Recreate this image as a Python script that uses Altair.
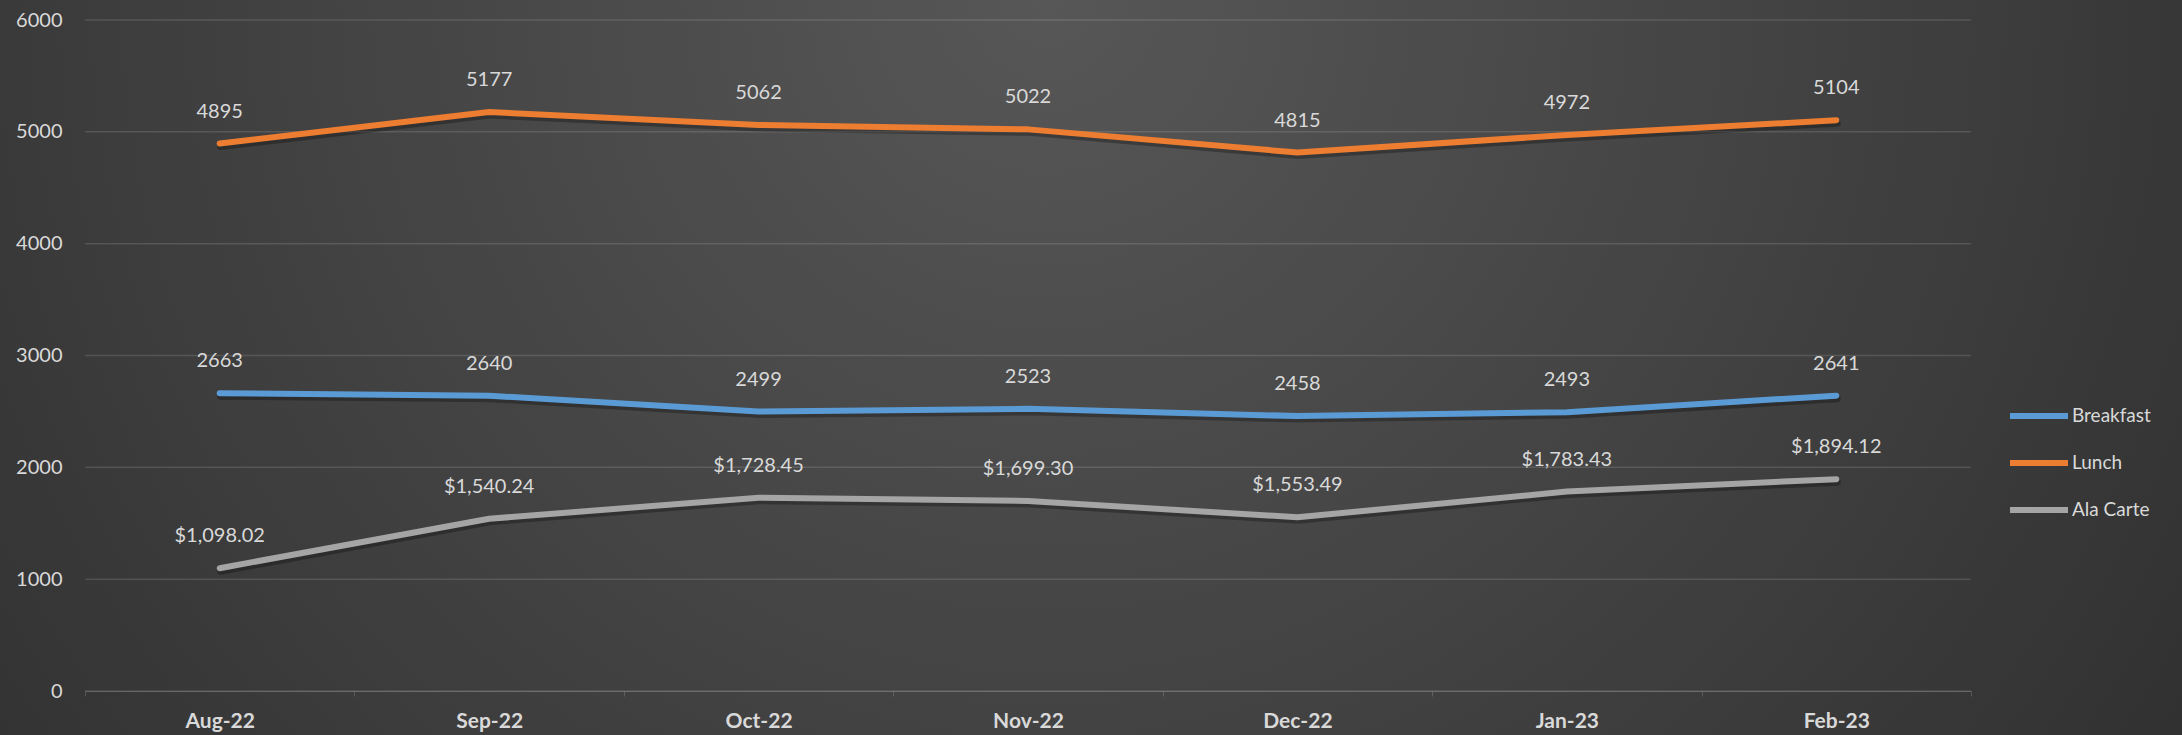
import altair as alt
import pandas as pd

months = ["Aug-22", "Sep-22", "Oct-22", "Nov-22", "Dec-22", "Jan-23", "Feb-23"]
breakfast = [2663, 2640, 2499, 2523, 2458, 2493, 2641]
lunch = [4895, 5177, 5062, 5022, 4815, 4972, 5104]
ala_carte = [1098.02, 1540.24, 1728.45, 1699.30, 1553.49, 1783.43, 1894.12]
series = ["Breakfast", "Lunch", "Ala Carte"]
colors = ["#5B9BD5", "#ED7D31", "#A5A5A5"]
y_ticks = [0, 1000, 2000, 3000, 4000, 5000, 6000]

rows = []
for name, vals in zip(series, [breakfast, lunch, ala_carte]):
    for m, v in zip(months, vals):
        label = f"${v:,.2f}" if name == "Ala Carte" else f"{v:.0f}"
        rows.append({"month": m, "series": name, "value": v, "label": label})
df = pd.DataFrame(rows)
grid_df = pd.DataFrame({"value": y_ticks})

W, H = 1886, 671
PL, PT, PR, PB = 85, 20, 211, 44
FONT = "Lato"
TXT = "#d9d9d9"

y_scale = alt.Scale(domain=[0, 6000], nice=False)
y_axis = alt.Axis(
    title=None, values=y_ticks, format="d", domain=False, ticks=False, grid=False,
    labelPadding=23, labelFontSize=20, labelColor=TXT, labelFont=FONT, zindex=1,
)

x_enc = alt.X(
    "month:N",
    sort=months,
    bandPosition=0.5,
    scale=alt.Scale(type="band", paddingInner=0, paddingOuter=0),
    axis=alt.Axis(
        title=None, labelAngle=0, tickBand="extent", grid=False,
        domainColor="#ffffff", domainOpacity=0.16, tickColor="#ffffff", tickOpacity=0.16,
        tickSize=5, labelPadding=14, labelFontSize=21, labelFontWeight="bold",
        labelColor=TXT, labelFont=FONT, zindex=1,
    ),
)
y_enc = alt.Y("value:Q", scale=y_scale, axis=y_axis)
color_enc = alt.Color(
    "series:N",
    sort=series,
    scale=alt.Scale(domain=series, range=colors),
    legend=alt.Legend(
        title=None, orient="none", legendX=1922, legendY=364,
        symbolType="stroke", symbolSize=3364, symbolStrokeWidth=6,
        labelFontSize=19, labelColor=TXT, labelFont=FONT, labelOffset=1,
        rowPadding=3,
    ),
)

bg = alt.Chart(pd.DataFrame({"a": [0]})).mark_rect(
    color=alt.RadialGradient(
        gradient="radial",
        stops=[alt.GradientStop(color="#575757", offset=0),
               alt.GradientStop(color="#2b2b2b", offset=1)],
        x1=0.48, y1=0.33, x2=0.48, y2=0.33, r1=0, r2=0.72,
    ),
).encode(
    x=alt.value(-PL), x2=alt.value(W + PR), y=alt.value(-PT), y2=alt.value(H + PB)
)

grid = alt.Chart(grid_df).mark_rule(
    color="#ffffff", opacity=0.13, strokeWidth=1.5
).encode(
    y=alt.Y("value:Q", scale=y_scale, axis=y_axis),
    x=alt.value(0), x2=alt.value(W),
)

base = alt.Chart(df).encode(x=x_enc, y=y_enc)

shadow = base.mark_line(
    color="#000000", opacity=0.28, strokeWidth=7, strokeCap="round",
    strokeJoin="round", yOffset=3, xOffset=1,
).encode(detail="series:N")

lines = base.mark_line(
    strokeWidth=6, strokeCap="round", strokeJoin="round"
).encode(color=color_enc)

labels = base.mark_text(
    dy=-26, baseline="alphabetic", align="center", fontSize=20, font=FONT,
    color=TXT,
).encode(text="label:N")

chart = alt.layer(bg, grid, shadow, lines, labels).properties(
    width=W, height=H,
    autosize=alt.AutoSizeParams(type="none"),
    padding={"left": PL, "top": PT, "right": PR, "bottom": PB},
    background="#2b2b2b",
).configure_view(stroke=None)

chart.save("out.html", embed_options={"renderer": "svg", "actions": False})
